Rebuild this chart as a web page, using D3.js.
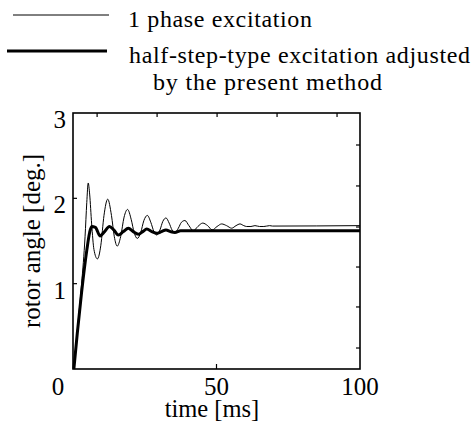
<!DOCTYPE html>
<html>
<head>
<meta charset="utf-8">
<script src="https://cdn.jsdelivr.net/npm/d3@7"></script>
<style>
  body { margin: 0; background: #fff; }
</style>
</head>
<body>
<script>
// data: [time ms, rotor angle deg]
const onePhase = [
  [0.3, 0], [1.5, 0.45], [3, 1.0], [4.2, 1.55], [4.8, 1.95], [5.3, 2.18], [5.8, 2.05],
  [6.5, 1.7], [7.3, 1.4], [8.5, 1.29], [9.7, 1.45], [10.8, 1.8], [12.1, 1.99], [13.4, 1.8],
  [14.4, 1.55], [15.4, 1.44], [16.6, 1.55], [17.8, 1.78], [19.0, 1.87], [20.3, 1.75],
  [21.3, 1.6], [22.4, 1.53], [23.6, 1.6], [24.7, 1.74], [25.9, 1.80], [27.1, 1.72],
  [28.2, 1.61], [29.2, 1.57], [30.3, 1.63], [31.3, 1.73], [32.4, 1.77], [33.5, 1.71],
  [34.5, 1.63], [35.5, 1.60], [36.7, 1.65], [37.8, 1.72], [39.0, 1.74], [40.4, 1.68],
  [41.9, 1.62], [43.5, 1.67], [45.2, 1.71], [46.9, 1.68], [48.5, 1.63], [50.2, 1.67],
  [51.8, 1.70], [53.5, 1.68], [55.3, 1.65], [56.8, 1.68], [58.2, 1.70], [59.5, 1.68],
  [60.5, 1.67], [62, 1.67], [63.4, 1.68], [65, 1.67], [66.5, 1.67], [68.5, 1.68],
  [69.5, 1.675], [100, 1.68]
];
const halfStep = [
  [0.3, 0], [1.5, 0.42], [3.0, 0.9], [4.8, 1.39], [5.8, 1.6], [6.5, 1.67], [7.8, 1.66],
  [9.4, 1.56], [11, 1.61], [12.7, 1.67], [14.2, 1.63], [15.8, 1.57], [17.5, 1.61],
  [19.3, 1.65], [21, 1.61], [22.8, 1.58], [24.3, 1.61], [25.7, 1.64], [27.5, 1.61],
  [29.2, 1.59], [30.8, 1.61], [32.4, 1.63], [34, 1.61], [35.5, 1.60], [37.5, 1.62],
  [40, 1.62], [100, 1.62]
];
const seriesNames = ['1 phase excitation', 'half-step-type excitation adjusted', 'by the present method'];
const xTickLabels = [0, 50, 100];
const yTickLabels = [1, 2, 3];
const topTicks = [8.4, 29.3, 50.2, 71.1, 92];
const rightTicks = [0.246, 0.727, 1.195, 1.664, 2.145, 2.625];

const w = 473;
const h = 427;
const padL = 73, padR = 360, padT = 113, padB = 369;

const x = d3.scaleLinear().domain([0, 100]).range([padL, padR]);
const y = d3.scaleLinear().domain([0, 3]).range([padB, padT]);

const svg = d3.select('body').append('svg')
  .attr('width', w)
  .attr('height', h)
  .attr('font-family', 'Liberation Serif');

// legend (text is letter-spaced in the original, so fit widths)
const legend = svg.append('g');
legend.append('line').attr('x1', 13).attr('x2', 109).attr('y1', 15).attr('y2', 15)
  .attr('stroke', '#000').attr('stroke-width', 1);
legend.append('line').attr('x1', 7).attr('x2', 107).attr('y1', 51).attr('y2', 51)
  .attr('stroke', '#000').attr('stroke-width', 3);
const legendRows = [
  { x: 128, y: 27, len: 184 },
  { x: 129, y: 63, len: 341 },
  { x: 153, y: 90, len: 229 }
];
legend.selectAll('text').data(legendRows).enter().append('text')
  .attr('x', d => d.x).attr('y', d => d.y)
  .attr('font-size', 24)
  .attr('textLength', d => d.len)
  .attr('lengthAdjust', 'spacing')
  .text((d, i) => seriesNames[i]);

// inner ticks
const tickLen = 4;
const axisG = svg.append('g').attr('stroke', '#000').attr('stroke-width', 1.2);
axisG.selectAll('.tt').data(topTicks).enter().append('line')
  .attr('x1', d => x(d)).attr('x2', d => x(d)).attr('y1', padT).attr('y2', padT + tickLen);
axisG.selectAll('.rt').data(rightTicks).enter().append('line')
  .attr('x1', padR).attr('x2', padR - tickLen).attr('y1', d => y(d)).attr('y2', d => y(d));
axisG.selectAll('.lt').data([1, 2]).enter().append('line')
  .attr('x1', padL).attr('x2', padL + tickLen).attr('y1', d => y(d)).attr('y2', d => y(d));
axisG.selectAll('.bt').data([50]).enter().append('line')
  .attr('x1', d => x(d)).attr('x2', d => x(d)).attr('y1', padB).attr('y2', padB - tickLen - 1);

// curves
const line = d3.line()
  .x(d => x(d[0]))
  .y(d => y(d[1]))
  .curve(d3.curveMonotoneX);

svg.append('path').datum(onePhase)
  .attr('d', line).attr('fill', 'none').attr('stroke', '#000').attr('stroke-width', 1);
svg.append('path').datum(halfStep)
  .attr('d', line).attr('fill', 'none').attr('stroke', '#000').attr('stroke-width', 3)
  .attr('stroke-linejoin', 'round');

// frame
svg.append('rect')
  .attr('x', padL).attr('y', padT)
  .attr('width', padR - padL).attr('height', padB - padT)
  .attr('fill', 'none').attr('stroke', '#000').attr('stroke-width', 1.6);

// tick labels
svg.selectAll('.xl').data(xTickLabels).enter().append('text')
  .attr('x', d => d === 0 ? padL - 15 : x(d))
  .attr('y', 395)
  .attr('text-anchor', 'middle')
  .attr('font-size', 25)
  .text(d => d);
svg.selectAll('.yl').data(yTickLabels).enter().append('text')
  .attr('x', 66)
  .attr('y', d => y(d) + 15)
  .attr('text-anchor', 'end')
  .attr('font-size', 25)
  .text(d => d);

// axis titles
svg.append('text')
  .attr('x', 212).attr('y', 417)
  .attr('text-anchor', 'middle')
  .attr('font-size', 24.5)
  .text('time [ms]');
svg.append('text')
  .attr('transform', 'translate(40,241) rotate(-90)')
  .attr('text-anchor', 'middle')
  .attr('font-size', 25)
  .text('rotor angle [deg.]');
</script>
</body>
</html>
